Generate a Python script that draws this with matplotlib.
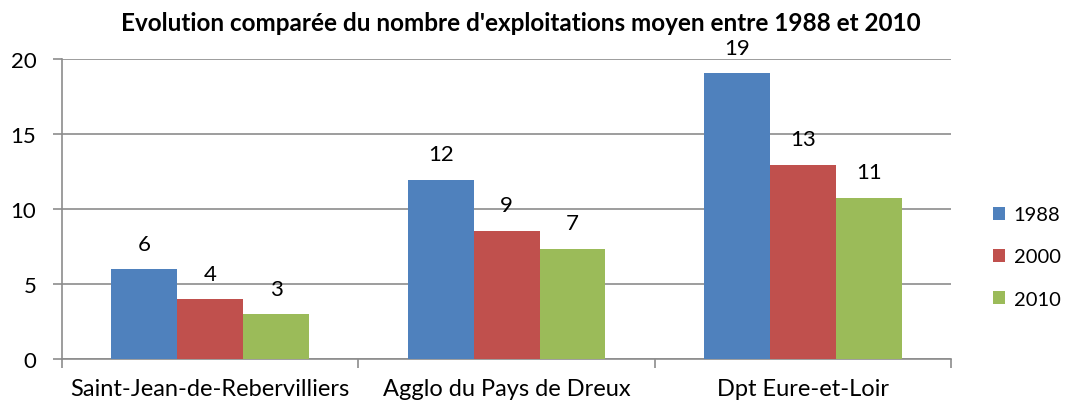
import numpy as np
import matplotlib.pyplot as plt

categories = ['Saint-Jean-de-Rebervilliers', 'Agglo du Pays de Dreux', 'Dpt Eure-et-Loir']
years = ['1988', '2000', '2010']
values_1988 = [6.0, 11.95, 19.05]
values_2000 = [4.0, 8.55, 12.95]
values_2010 = [3.0, 7.35, 10.75]
colors = ['#4F81BD', '#C0504D', '#9BBB59']

plt.rcParams['font.family'] = ['Lato', 'DejaVu Sans']

fig = plt.figure(figsize=(10.65, 4.06), dpi=100)
ax = fig.add_axes([0.0582, 0.1133, 0.835, 0.739])

x = np.arange(len(categories))
width = 0.222
series = [values_1988, values_2000, values_2010]
for i, (vals, year, col) in enumerate(zip(series, years, colors)):
    pos = x + (i - 1) * width
    bars = ax.bar(pos, vals, width, color=col, label=year, zorder=3)
    for b, v in zip(bars, vals):
        ax.annotate(str(int(round(v))), (b.get_x() + b.get_width() / 2, v),
                    xytext=(0, 11), textcoords='offset points',
                    ha='center', va='bottom', fontsize=16)

ax.set_xlim(-0.5, 2.5)
ax.set_ylim(0, 20)
ax.set_yticks([0, 5, 10, 15, 20])
ax.yaxis.grid(True, color='#8c8c8c', linewidth=1.2, zorder=0)
ax.set_axisbelow(True)

ax.set_xticks(x)
ax.set_xticklabels(categories, fontsize=17)
ax.set_xticks([-0.5, 0.5, 1.5, 2.5], minor=True)
ax.tick_params(axis='x', which='major', length=0, pad=14)
ax.tick_params(axis='x', which='minor', length=6.5, color='#8c8c8c', width=1.2)
ax.tick_params(axis='y', labelsize=16, length=6.5, color='#8c8c8c', width=1.2, pad=12)

for s in ['top', 'right']:
    ax.spines[s].set_visible(False)
for s in ['left', 'bottom']:
    ax.spines[s].set_color('#8c8c8c')
    ax.spines[s].set_linewidth(1.2)

fig.suptitle("Evolution comparée du nombre d'exploitations moyen entre 1988 et 2010",
             x=0.489, y=0.97, fontsize=17.5, fontweight='bold')

ax.legend(loc='center left', bbox_to_anchor=(1.027, 0.34), frameon=False,
          fontsize=14.5, handlelength=0.6, handleheight=0.6, labelspacing=1.25,
          handletextpad=0.4)

fig.savefig('out.png', dpi=100)
